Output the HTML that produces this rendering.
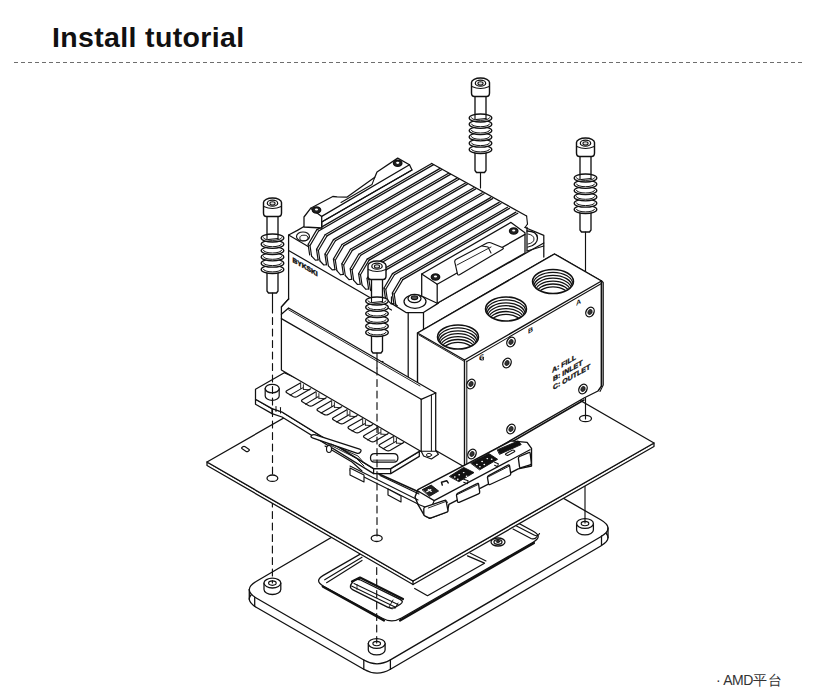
<!DOCTYPE html>
<html><head><meta charset="utf-8"><style>
html,body{margin:0;padding:0;background:#fff;}
body{width:814px;height:700px;position:relative;overflow:hidden;font-family:"Liberation Sans",sans-serif;}
.t{position:absolute;left:52px;top:20.5px;font-size:28.5px;font-weight:bold;color:#111;letter-spacing:0.35px;white-space:nowrap;}
.dash{position:absolute;left:14px;top:61.5px;width:788px;height:1.5px;background:repeating-linear-gradient(90deg,#6e6e6e 0 4px,transparent 4px 7px);}
.amd{position:absolute;left:716px;top:672px;font-size:14px;color:#333;white-space:nowrap;}
svg{position:absolute;left:0;top:0;}
text{opacity:0.99}
</style></head><body>
<div class="t">Install tutorial</div>
<div class="dash"></div>
<svg width="814" height="700" viewBox="0 0 814 700" stroke="#111" stroke-linejoin="round" stroke-linecap="round">
<path d="M256.5,590.6 Q242,599.1 256.6,607.5 L363.8,669.3 Q377.1,677 390.4,669.2 L600.8,546 Q615.3,537.5 600.7,529.1 L494.8,468 Q480.2,459.6 465.7,468.1 Z" fill="#fff" stroke-width="1.3224999999999998" />
<path d="M256.5,581.3 Q242,589.8 256.6,598.2 L363.8,660 Q377.1,667.7 390.4,659.9 L600.8,536.7 Q615.3,528.2 600.7,519.8 L494.8,458.7 Q480.2,450.3 465.7,458.8 Z" fill="#fff" stroke-width="1.3224999999999998" />
<polyline points="249.3,589.5 249.3,599.3" fill="none" stroke-width="1.3224999999999998" />
<polyline points="608,528 608,537.8" fill="none" stroke-width="1.3224999999999998" />
<polyline points="363.8,660 363.8,669.3" fill="none" stroke-width="1.265" />
<polyline points="390.4,660 390.4,669.3" fill="none" stroke-width="1.265" />
<polyline points="254.7,597.3 254.7,606.3" fill="none" stroke-width="1.265" />
<polyline points="601.5,536 601.5,545" fill="none" stroke-width="1.265" />
<path d="M323.3,575.4 Q313.8,580.9 323.5,586.2 L382.3,618.2 Q392,623.5 401.5,618 L533.5,542 Q543,536.5 533.3,531.2 L474.5,499.2 Q464.8,493.9 455.3,499.4 Z" fill="#fff" stroke-width="1.265" />
<polyline points="324.7,579.8 362,557.2" fill="none" stroke-width="1.15" />
<polyline points="326.6,582.7 362,560.4" fill="none" stroke-width="1.15" />
<path d="M513,529 L531,538.5 Q535,540 537,536.5" fill="none" stroke-width="1.15" />
<path d="M516.5,526 L534,535 Q538,537 539.5,533.5" fill="none" stroke-width="1.15" />
<polyline points="322.7,586.5 384,620.5" fill="none" stroke-width="2.1849999999999996" />
<polyline points="400,620.5 534,543" fill="none" stroke-width="2.1849999999999996" />
<path d="M352.9,581.8 Q356,577.8 360.5,580 L400,599.3 Q404.5,601.5 400.3,604.2 L396.2,606.8 Q392,609.5 387.5,607.2 L353,589.8 Q348.5,587.5 351.6,583.5 Z" fill="#fff" stroke-width="1.3224999999999998" />
<polyline points="352,581.5 360,577.6 403,599" fill="none" stroke-width="2.1849999999999996" />
<polyline points="354,583.5 398,604.5" fill="none" stroke-width="1.035" />
<polyline points="351.5,586 395,607" fill="none" stroke-width="1.035" />
<polyline points="357,584.5 357,589.5" fill="none" stroke-width="0.8049999999999999" />
<polyline points="393,600 389,607 392,609" fill="none" stroke-width="0.9199999999999999" />
<polyline points="398,603 395,608.5" fill="none" stroke-width="0.9199999999999999" />
<polyline points="467.5,555.8 484.5,563.2 427.5,595.7 414.7,588.5" fill="none" stroke-width="1.265" />
<polyline points="470,553 486,561" fill="none" stroke-width="1.035" />
<ellipse cx="498" cy="542" rx="7" ry="4" fill="none" stroke-width="1.265" />
<ellipse cx="498" cy="542" rx="4" ry="2.3" fill="none" stroke-width="1.265" />
<ellipse cx="498" cy="541.5" rx="1.8" ry="1" fill="#333" stroke-width="0.9199999999999999" />
<path d="M264,583.1 L264,589.6 A8.4,4.9 0 0 0 280.8,589.6 L280.8,583.1" fill="#fff" stroke-width="1.265" />
<ellipse cx="272.4" cy="583.1" rx="8.4" ry="4.9" fill="#fff" stroke-width="1.265" />
<ellipse cx="272.4" cy="583.1" rx="3.8" ry="2.2" fill="none" stroke-width="1.15" />
<path d="M368.3,643.5 L368.3,650 A8.4,4.9 0 0 0 385.1,650 L385.1,643.5" fill="#fff" stroke-width="1.265" />
<ellipse cx="376.7" cy="643.5" rx="8.4" ry="4.9" fill="#fff" stroke-width="1.265" />
<ellipse cx="376.7" cy="643.5" rx="3.8" ry="2.2" fill="none" stroke-width="1.15" />
<path d="M576.6,523.5 L576.6,530 A8.4,4.9 0 0 0 593.4,530 L593.4,523.5" fill="#fff" stroke-width="1.265" />
<ellipse cx="585" cy="523.5" rx="8.4" ry="4.9" fill="#fff" stroke-width="1.265" />
<ellipse cx="585" cy="523.5" rx="3.8" ry="2.2" fill="none" stroke-width="1.15" />
<polyline points="272.4,500 272.4,583" fill="none" stroke-width="1.15" stroke-dasharray="7,4.5"/>
<polyline points="376.7,556 376.7,643" fill="none" stroke-width="1.15" stroke-dasharray="7,4.5"/>
<polyline points="585,486 585,523" fill="none" stroke-width="1.15" />
<polygon points="207,462 413,581 654,443 654,446.5 413,584.5 207,465.5" fill="#fff" stroke-width="1.265" />
<polygon points="207,462 413,581 654,443 448,324" fill="#fff" stroke-width="1.265" />
<polyline points="413,581 413,584.5" fill="none" stroke-width="1.265" />
<ellipse cx="272.4" cy="478.2" rx="5.4" ry="3.2" fill="none" stroke-width="1.265" />
<ellipse cx="376.7" cy="538.3" rx="5.5" ry="3.2" fill="none" stroke-width="1.265" />
<ellipse cx="585.5" cy="418.5" rx="6" ry="3.2" fill="none" stroke-width="1.265" />
<path d="M242.2,448.8 Q241,448 242.2,447.2 L242.8,446.8 Q244,446 245.2,446.8 L248.8,449.2 Q250,450 248.8,450.8 L248.2,451.2 Q247,452 245.8,451.2 Z" fill="#fff" stroke-width="1.15" />
<polygon points="255.5,399.3 272,408.6 282,412 373.6,468.6 390.7,468.6 419.3,451.4 419.3,456.4 390.7,473.6 373.6,473.6 282,417 272,413.6 255.5,404.3" fill="#fff" stroke-width="1.265" />
<polygon points="255.5,389.3 284.3,372.7 435.7,441.9 419.3,451.4 390.7,468.6 373.6,468.6 282,412 272,408.6 255.5,399.3" fill="#fff" stroke-width="1.265" />
<polyline points="272,408.6 272,413.6" fill="none" stroke-width="1.265" />
<polyline points="373.6,468.6 373.6,473.6" fill="none" stroke-width="1.265" />
<polyline points="390.7,468.6 390.7,473.6" fill="none" stroke-width="1.265" />
<polyline points="276,406.5 276,411.5" fill="none" stroke-width="1.035" />
<polyline points="280.5,407.5 280.5,413" fill="none" stroke-width="1.035" />
<path d="M265.2,388.6 L265.2,396 A7,4.3 0 0 0 279.2,396 L279.2,388.6" fill="#fff" stroke-width="1.2075" />
<ellipse cx="272.2" cy="388.6" rx="7" ry="4.3" fill="#fff" stroke-width="1.3224999999999998" />
<path d="M370.5,457.8 Q370.5,453.6 374.7,453.6 L393.7,453.6 Q397.9,453.6 397.9,457.8 L397.9,457.9 Q397.9,462.1 393.7,462.1 L374.7,462.1 Q370.5,462.1 370.5,457.9 Z" fill="#fff" stroke-width="1.265" />
<polyline points="373,460.3 395,460.3" fill="none" stroke-width="1.38" stroke="#777"/>
<path d="M300.4,382.9 L287.1,390.5 Q284.9,391.8 287.1,393.1 L293,396.5 Q295.2,397.7 297.4,396.5 L310.7,388.8" fill="#fff" stroke-width="1.2075" />
<polyline points="290.1,395.1 302.6,387.9" fill="none" stroke-width="1.0924999999999998" />
<polyline points="300.7,383.4 300.7,388.4" fill="none" stroke-width="0.9199999999999999" />
<polyline points="303.4,384.7 303.4,389.4" fill="none" stroke-width="0.9199999999999999" />
<polyline points="303.4,389.4 309.7,389.8" fill="none" stroke-width="0.9199999999999999" />
<path d="M315.9,391.8 L302.6,399.5 Q300.4,400.8 302.6,402 L308.5,405.4 Q310.7,406.7 312.9,405.4 L326.2,397.7" fill="#fff" stroke-width="1.2075" />
<polyline points="305.6,404.1 318.1,396.8" fill="none" stroke-width="1.0924999999999998" />
<polyline points="316.2,392.3 316.2,397.3" fill="none" stroke-width="0.9199999999999999" />
<polyline points="318.9,393.6 318.9,398.3" fill="none" stroke-width="0.9199999999999999" />
<polyline points="318.9,398.3 325.2,398.7" fill="none" stroke-width="0.9199999999999999" />
<path d="M331.4,400.8 L318.1,408.4 Q315.9,409.7 318.1,411 L324,414.4 Q326.2,415.6 328.4,414.4 L341.7,406.7" fill="#fff" stroke-width="1.2075" />
<polyline points="321.1,413 333.6,405.8" fill="none" stroke-width="1.0924999999999998" />
<polyline points="331.7,401.3 331.7,406.3" fill="none" stroke-width="0.9199999999999999" />
<polyline points="334.4,402.6 334.4,407.3" fill="none" stroke-width="0.9199999999999999" />
<polyline points="334.4,407.3 340.7,407.7" fill="none" stroke-width="0.9199999999999999" />
<path d="M346.9,409.7 L333.6,417.4 Q331.4,418.7 333.6,419.9 L339.5,423.3 Q341.7,424.6 343.9,423.3 L357.2,415.6" fill="#fff" stroke-width="1.2075" />
<polyline points="336.6,422 349.1,414.7" fill="none" stroke-width="1.0924999999999998" />
<polyline points="347.2,410.2 347.2,415.2" fill="none" stroke-width="0.9199999999999999" />
<polyline points="349.9,411.5 349.9,416.2" fill="none" stroke-width="0.9199999999999999" />
<polyline points="349.9,416.2 356.2,416.6" fill="none" stroke-width="0.9199999999999999" />
<path d="M362.4,418.7 L349.1,426.3 Q346.9,427.6 349.1,428.9 L355,432.3 Q357.2,433.5 359.4,432.3 L372.7,424.6" fill="#fff" stroke-width="1.2075" />
<polyline points="352.1,430.9 364.6,423.7" fill="none" stroke-width="1.0924999999999998" />
<polyline points="362.7,419.2 362.7,424.2" fill="none" stroke-width="0.9199999999999999" />
<polyline points="365.4,420.5 365.4,425.2" fill="none" stroke-width="0.9199999999999999" />
<polyline points="365.4,425.2 371.7,425.6" fill="none" stroke-width="0.9199999999999999" />
<path d="M377.9,427.6 L364.6,435.3 Q362.4,436.6 364.6,437.8 L370.5,441.2 Q372.7,442.5 374.9,441.2 L388.2,433.5" fill="#fff" stroke-width="1.2075" />
<polyline points="367.6,439.9 380.1,432.6" fill="none" stroke-width="1.0924999999999998" />
<polyline points="378.2,428.1 378.2,433.1" fill="none" stroke-width="0.9199999999999999" />
<polyline points="380.9,429.4 380.9,434.1" fill="none" stroke-width="0.9199999999999999" />
<polyline points="380.9,434.1 387.2,434.5" fill="none" stroke-width="0.9199999999999999" />
<path d="M393.4,436.6 L380.1,444.2 Q377.9,445.5 380.1,446.8 L386,450.2 Q388.2,451.4 390.4,450.2 L403.7,442.5" fill="#fff" stroke-width="1.2075" />
<polyline points="383.1,448.8 395.6,441.6" fill="none" stroke-width="1.0924999999999998" />
<polyline points="393.7,437.1 393.7,442.1" fill="none" stroke-width="0.9199999999999999" />
<polyline points="396.4,438.4 396.4,443.1" fill="none" stroke-width="0.9199999999999999" />
<polyline points="396.4,443.1 402.7,443.5" fill="none" stroke-width="0.9199999999999999" />
<polygon points="288.6,299 288.6,235 304,226.5 304,217 310.6,208.3 397.7,158.1 409.5,164.7 412,166 432,161 526.6,216 527.5,224 543.8,235.3 543.8,290 435.7,384 408.2,377.6" fill="#fff" stroke-width="0.0" stroke="none"/>
<polyline points="288.6,299 288.6,235 297.4,230.4 304,226.5" fill="none" stroke-width="1.265" />
<polyline points="288.6,235 309,247" fill="none" stroke-width="1.15" />
<polyline points="288.6,299 281.4,307" fill="none" stroke-width="1.265" />
<ellipse cx="303" cy="236.5" rx="6.5" ry="4.5" fill="#fff" stroke-width="1.15" />
<ellipse cx="304" cy="238" rx="4.2" ry="2.8" fill="none" stroke-width="0.9199999999999999" />
<polyline points="391.5,303.4 406.4,312.7 423,312.7 438,303.4" fill="none" stroke-width="1.265" />
<polyline points="408.2,312.7 408.2,377.6" fill="none" stroke-width="1.265" />
<polyline points="423.5,312.7 423.5,372" fill="none" stroke-width="1.265" />
<polyline points="391.5,297 391.5,303.4" fill="none" stroke-width="1.265" />
<ellipse cx="415" cy="301.5" rx="11" ry="6.8" fill="#fff" stroke-width="1.265" />
<ellipse cx="414.5" cy="298.5" rx="6.5" ry="4.2" fill="#fff" stroke-width="1.265" />
<ellipse cx="414.5" cy="297.8" rx="3.2" ry="1.9" fill="#555" stroke-width="1.15" />
<polyline points="438,303.4 438,298" fill="none" stroke-width="1.15" />
<polyline points="437.2,303.2 543.8,243" fill="none" stroke-width="1.265" />
<polyline points="525,227.5 543.8,235.3 543.8,257" fill="none" stroke-width="1.265" />
<polyline points="527.5,224 525,227.5" fill="none" stroke-width="1.15" />
<path d="M527,231 Q537,231 537.5,238 Q537.5,245 528,247" fill="none" stroke-width="1.265" />
<path d="M528,234 Q534,235 534,239 Q534,243 528,244" fill="none" stroke-width="0.9199999999999999" />
<polyline points="527,227.5 527,251" fill="none" stroke-width="1.265" />
<polyline points="527,251 543.8,246" fill="none" stroke-width="1.035" />
<polyline points="288.6,250.5 391.5,310" fill="none" stroke-width="1.2075" />
<polygon points="316.7,229.9 431.7,163.5 433.6,164.6 318.6,231 310,245.6 311.6,256.1 309.7,255 308.1,244.5" fill="#fff" stroke-width="0.0" stroke="none"/>
<polygon points="325.1,234.8 440.1,168.4 442,169.5 327,235.9 318.4,250.5 320,261 318.1,259.9 316.5,249.4" fill="#fff" stroke-width="0.0" stroke="none"/>
<polygon points="333.5,239.6 448.5,173.3 450.4,174.4 335.4,240.7 326.8,255.3 328.4,265.8 326.5,264.7 324.9,254.2" fill="#fff" stroke-width="0.0" stroke="none"/>
<polygon points="342,244.5 457,178.1 458.9,179.2 343.9,245.6 335.3,260.2 336.9,270.7 335,269.6 333.4,259.1" fill="#fff" stroke-width="0.0" stroke="none"/>
<polygon points="350.4,249.3 465.4,183 467.3,184.1 352.3,250.4 343.7,265 345.3,275.5 343.4,274.4 341.8,263.9" fill="#fff" stroke-width="0.0" stroke="none"/>
<polygon points="358.8,254.2 473.8,187.8 475.7,188.9 360.7,255.3 352.1,269.9 353.7,280.4 351.8,279.3 350.2,268.8" fill="#fff" stroke-width="0.0" stroke="none"/>
<polygon points="367.2,259.1 482.2,192.7 484.1,193.8 369.1,260.1 360.5,274.7 362.1,285.2 360.2,284.2 358.6,273.7" fill="#fff" stroke-width="0.0" stroke="none"/>
<polygon points="375.6,263.9 490.6,197.6 492.5,198.6 377.5,265 368.9,279.6 370.5,290.1 368.6,289 367,278.5" fill="#fff" stroke-width="0.0" stroke="none"/>
<polygon points="384.1,268.8 499.1,202.4 501,203.5 386,269.9 377.4,284.5 379,295 377.1,293.9 375.5,283.4" fill="#fff" stroke-width="0.0" stroke="none"/>
<polygon points="392.5,273.6 507.5,207.3 509.4,208.4 394.4,274.7 385.8,289.3 387.4,299.8 385.5,298.7 383.9,288.2" fill="#fff" stroke-width="0.0" stroke="none"/>
<polygon points="400.9,278.5 515.9,212.1 517.8,213.2 402.8,279.6 394.2,294.2 395.8,304.7 393.9,303.6 392.3,293.1" fill="#fff" stroke-width="0.0" stroke="none"/>
<polyline points="316.7,229.9 431.7,163.5" fill="none" stroke-width="1.288" />
<polyline points="318.6,231 433.6,164.6" fill="none" stroke-width="1.288" />
<polyline points="316.7,229.9 308.1,244.5 309.7,255" fill="none" stroke-width="1.2075" />
<polyline points="318.6,231 310,245.6 311.6,256.1" fill="none" stroke-width="1.15" />
<polyline points="308.1,244.5 310,245.6" fill="none" stroke-width="0.9199999999999999" />
<polyline points="311.6,256.1 315.4,260.2 318.1,259.9" fill="none" stroke-width="1.15" />
<polyline points="325.1,234.8 440.1,168.4" fill="none" stroke-width="1.288" />
<polyline points="327,235.9 442,169.5" fill="none" stroke-width="1.288" />
<polyline points="325.1,234.8 316.5,249.4 318.1,259.9" fill="none" stroke-width="1.2075" />
<polyline points="327,235.9 318.4,250.5 320,261" fill="none" stroke-width="1.15" />
<polyline points="316.5,249.4 318.4,250.5" fill="none" stroke-width="0.9199999999999999" />
<polyline points="320,261 323.8,265 326.5,264.7" fill="none" stroke-width="1.15" />
<polyline points="333.5,239.6 448.5,173.3" fill="none" stroke-width="1.288" />
<polyline points="335.4,240.7 450.4,174.4" fill="none" stroke-width="1.288" />
<polyline points="333.5,239.6 324.9,254.2 326.5,264.7" fill="none" stroke-width="1.2075" />
<polyline points="335.4,240.7 326.8,255.3 328.4,265.8" fill="none" stroke-width="1.15" />
<polyline points="324.9,254.2 326.8,255.3" fill="none" stroke-width="0.9199999999999999" />
<polyline points="328.4,265.8 332.2,269.9 335,269.6" fill="none" stroke-width="1.15" />
<polyline points="342,244.5 457,178.1" fill="none" stroke-width="1.288" />
<polyline points="343.9,245.6 458.9,179.2" fill="none" stroke-width="1.288" />
<polyline points="342,244.5 333.4,259.1 335,269.6" fill="none" stroke-width="1.2075" />
<polyline points="343.9,245.6 335.3,260.2 336.9,270.7" fill="none" stroke-width="1.15" />
<polyline points="333.4,259.1 335.3,260.2" fill="none" stroke-width="0.9199999999999999" />
<polyline points="336.9,270.7 340.6,274.8 343.4,274.4" fill="none" stroke-width="1.15" />
<polyline points="350.4,249.3 465.4,183" fill="none" stroke-width="1.288" />
<polyline points="352.3,250.4 467.3,184.1" fill="none" stroke-width="1.288" />
<polyline points="350.4,249.3 341.8,263.9 343.4,274.4" fill="none" stroke-width="1.2075" />
<polyline points="352.3,250.4 343.7,265 345.3,275.5" fill="none" stroke-width="1.15" />
<polyline points="341.8,263.9 343.7,265" fill="none" stroke-width="0.9199999999999999" />
<polyline points="345.3,275.5 349,279.6 351.8,279.3" fill="none" stroke-width="1.15" />
<polyline points="358.8,254.2 473.8,187.8" fill="none" stroke-width="1.288" />
<polyline points="360.7,255.3 475.7,188.9" fill="none" stroke-width="1.288" />
<polyline points="358.8,254.2 350.2,268.8 351.8,279.3" fill="none" stroke-width="1.2075" />
<polyline points="360.7,255.3 352.1,269.9 353.7,280.4" fill="none" stroke-width="1.15" />
<polyline points="350.2,268.8 352.1,269.9" fill="none" stroke-width="0.9199999999999999" />
<polyline points="353.7,280.4 357.5,284.5 360.2,284.2" fill="none" stroke-width="1.15" />
<polyline points="367.2,259.1 482.2,192.7" fill="none" stroke-width="1.288" />
<polyline points="369.1,260.1 484.1,193.8" fill="none" stroke-width="1.288" />
<polyline points="367.2,259.1 358.6,273.7 360.2,284.2" fill="none" stroke-width="1.2075" />
<polyline points="369.1,260.1 360.5,274.7 362.1,285.2" fill="none" stroke-width="1.15" />
<polyline points="358.6,273.7 360.5,274.7" fill="none" stroke-width="0.9199999999999999" />
<polyline points="362.1,285.2 365.9,289.3 368.6,289" fill="none" stroke-width="1.15" />
<polyline points="375.6,263.9 490.6,197.6" fill="none" stroke-width="1.288" />
<polyline points="377.5,265 492.5,198.6" fill="none" stroke-width="1.288" />
<polyline points="375.6,263.9 367,278.5 368.6,289" fill="none" stroke-width="1.2075" />
<polyline points="377.5,265 368.9,279.6 370.5,290.1" fill="none" stroke-width="1.15" />
<polyline points="367,278.5 368.9,279.6" fill="none" stroke-width="0.9199999999999999" />
<polyline points="370.5,290.1 374.3,294.2 377.1,293.9" fill="none" stroke-width="1.15" />
<polyline points="384.1,268.8 499.1,202.4" fill="none" stroke-width="1.288" />
<polyline points="386,269.9 501,203.5" fill="none" stroke-width="1.288" />
<polyline points="384.1,268.8 375.5,283.4 377.1,293.9" fill="none" stroke-width="1.2075" />
<polyline points="386,269.9 377.4,284.5 379,295" fill="none" stroke-width="1.15" />
<polyline points="375.5,283.4 377.4,284.5" fill="none" stroke-width="0.9199999999999999" />
<polyline points="379,295 382.7,299 385.5,298.7" fill="none" stroke-width="1.15" />
<polyline points="392.5,273.6 507.5,207.3" fill="none" stroke-width="1.288" />
<polyline points="394.4,274.7 509.4,208.4" fill="none" stroke-width="1.288" />
<polyline points="392.5,273.6 383.9,288.2 385.5,298.7" fill="none" stroke-width="1.2075" />
<polyline points="394.4,274.7 385.8,289.3 387.4,299.8" fill="none" stroke-width="1.15" />
<polyline points="383.9,288.2 385.8,289.3" fill="none" stroke-width="0.9199999999999999" />
<polyline points="387.4,299.8 391.1,303.9 393.9,303.6" fill="none" stroke-width="1.15" />
<polyline points="400.9,278.5 515.9,212.1" fill="none" stroke-width="1.288" />
<polyline points="402.8,279.6 517.8,213.2" fill="none" stroke-width="1.288" />
<polyline points="400.9,278.5 392.3,293.1 393.9,303.6" fill="none" stroke-width="1.2075" />
<polyline points="402.8,279.6 394.2,294.2 395.8,304.7" fill="none" stroke-width="1.15" />
<polyline points="392.3,293.1 394.2,294.2" fill="none" stroke-width="0.9199999999999999" />
<polyline points="395.8,304.7 397.3,305.7" fill="none" stroke-width="1.265" />
<polyline points="431.7,163.5 526.6,216" fill="none" stroke-width="1.265" />
<polyline points="526.6,216 527.5,224" fill="none" stroke-width="1.15" />
<polygon points="304,217 310.6,208.3 332.8,196.5 337.2,196.9 346.8,197.2 374.8,177.3 377,172 397.7,158.1 409.5,164.7 412,170 321.7,222 321.7,228 304,227" fill="#fff" stroke-width="1.265" />
<polyline points="310.6,208.3 321.7,216.4 409.5,164.7" fill="none" stroke-width="1.265" />
<polyline points="321.7,216.4 321.7,228" fill="none" stroke-width="1.265" />
<polyline points="304,217 321.7,217" fill="none" stroke-width="0.0" />
<polyline points="337.2,196.9 341,203 346.8,197.2" fill="none" stroke-width="0.0" />
<polyline points="341,202.5 372,184.5 374.8,177.3" fill="none" stroke-width="1.035" />
<polyline points="321.7,222 412,170" fill="none" stroke-width="1.15" />
<ellipse cx="316.5" cy="210" rx="4.2" ry="3" fill="#222" stroke-width="1.38" />
<ellipse cx="316.5" cy="209.5" rx="1.6" ry="1.1" fill="#fff" stroke-width="0.0" />
<ellipse cx="397.7" cy="163.3" rx="4.2" ry="3" fill="#222" stroke-width="1.38" />
<ellipse cx="397.7" cy="162.8" rx="1.6" ry="1.1" fill="#fff" stroke-width="0.0" />
<polygon points="421.7,274 511,222.4 525,232.7 525,253 437.2,303.2 421.7,296" fill="#fff" stroke-width="1.265" />
<polyline points="421.7,274 437.2,284.3 525,234.4" fill="none" stroke-width="1.265" />
<polyline points="437.2,284.3 437.2,303.2" fill="none" stroke-width="1.265" />
<polyline points="425,296 421.7,296" fill="none" stroke-width="0.0" />
<path d="M454.8,262.2 Q454.4,260.2 456.2,259.3 L487,243 Q488.8,242.1 490.7,242.8 L502.4,247.5 Q504.3,248.2 502.6,249.2 L459.5,274.7 Q457.8,275.7 457.4,273.7 Z" fill="#fff" stroke-width="1.15" />
<polyline points="482,246 488,247 491,253" fill="none" stroke-width="1.035" />
<polyline points="457,265 491,247" fill="none" stroke-width="0.9199999999999999" />
<ellipse cx="435.5" cy="277" rx="4.2" ry="3" fill="#222" stroke-width="1.38" />
<ellipse cx="435.5" cy="276.5" rx="1.6" ry="1.1" fill="#fff" stroke-width="0.0" />
<ellipse cx="513.7" cy="231" rx="4.2" ry="3" fill="#222" stroke-width="1.38" />
<ellipse cx="513.7" cy="230.5" rx="1.6" ry="1.1" fill="#fff" stroke-width="0.0" />
<text transform="matrix(1,0.577,0,1,292.5,262)" font-family="Liberation Sans" font-weight="bold" font-size="6.8" fill="#111" stroke="#111" stroke-width="0.45" letter-spacing="-0.1">BYKSKI</text>
<polygon points="417.5,333 554.5,254 601.5,281 601.5,386 598,391 584,398 464.5,467 417.5,440" fill="#fff" stroke-width="1.38" />
<polygon points="417.5,333 464.5,360 601.5,281 554.5,254" fill="#fff" stroke-width="1.38" />
<polyline points="464.5,360 464.5,466" fill="none" stroke-width="1.38" />
<polyline points="466.8,361 466.8,466" fill="none" stroke-width="1.035" />
<polyline points="419,335 464.5,361.5" fill="none" stroke-width="0.9199999999999999" />
<polyline points="466.8,361.5 601.5,283.5" fill="none" stroke-width="1.035" />
<polyline points="584,400 466,468.5" fill="none" stroke-width="1.4949999999999999" />
<polyline points="601.5,281 601.5,386" fill="none" stroke-width="1.4949999999999999" />
<clipPath id="th458"><ellipse cx="458" cy="337" rx="20" ry="11.5"/></clipPath>
<ellipse cx="458" cy="337" rx="20.5" ry="12" fill="#fff" stroke-width="1.4949999999999999" />
<g clip-path="url(#th458)">
<ellipse cx="458" cy="339.6" rx="19.8" ry="11.7" fill="none" stroke-width="1.265" />
<ellipse cx="458" cy="342.2" rx="19.1" ry="11.4" fill="none" stroke-width="1.265" />
<ellipse cx="458" cy="344.8" rx="18.4" ry="11.1" fill="none" stroke-width="1.265" />
<ellipse cx="458" cy="347.4" rx="17.7" ry="10.8" fill="none" stroke-width="1.265" />
<ellipse cx="458" cy="350" rx="17" ry="10.5" fill="none" stroke-width="1.265" />
<ellipse cx="458" cy="352.6" rx="16.3" ry="10.2" fill="none" stroke-width="1.265" />
</g>
<clipPath id="th506"><ellipse cx="506" cy="309" rx="20" ry="11.5"/></clipPath>
<ellipse cx="506" cy="309" rx="20.5" ry="12" fill="#fff" stroke-width="1.4949999999999999" />
<g clip-path="url(#th506)">
<ellipse cx="506" cy="311.6" rx="19.8" ry="11.7" fill="none" stroke-width="1.265" />
<ellipse cx="506" cy="314.2" rx="19.1" ry="11.4" fill="none" stroke-width="1.265" />
<ellipse cx="506" cy="316.8" rx="18.4" ry="11.1" fill="none" stroke-width="1.265" />
<ellipse cx="506" cy="319.4" rx="17.7" ry="10.8" fill="none" stroke-width="1.265" />
<ellipse cx="506" cy="322" rx="17" ry="10.5" fill="none" stroke-width="1.265" />
<ellipse cx="506" cy="324.6" rx="16.3" ry="10.2" fill="none" stroke-width="1.265" />
</g>
<clipPath id="th553"><ellipse cx="553" cy="281.5" rx="20" ry="11.5"/></clipPath>
<ellipse cx="553" cy="281.5" rx="20.5" ry="12" fill="#fff" stroke-width="1.4949999999999999" />
<g clip-path="url(#th553)">
<ellipse cx="553" cy="284.1" rx="19.8" ry="11.7" fill="none" stroke-width="1.265" />
<ellipse cx="553" cy="286.7" rx="19.1" ry="11.4" fill="none" stroke-width="1.265" />
<ellipse cx="553" cy="289.3" rx="18.4" ry="11.1" fill="none" stroke-width="1.265" />
<ellipse cx="553" cy="291.9" rx="17.7" ry="10.8" fill="none" stroke-width="1.265" />
<ellipse cx="553" cy="294.5" rx="17" ry="10.5" fill="none" stroke-width="1.265" />
<ellipse cx="553" cy="297.1" rx="16.3" ry="10.2" fill="none" stroke-width="1.265" />
</g>
<ellipse cx="511" cy="342" rx="3.9" ry="5.1" transform="rotate(28 511 342)" fill="#fff" stroke-width="1.35"/>
<ellipse cx="511" cy="342" rx="2.0" ry="2.7" transform="rotate(28 511 342)" fill="#333" stroke-width="0.6"/>
<ellipse cx="507" cy="363" rx="3.9" ry="5.1" transform="rotate(28 507 363)" fill="#fff" stroke-width="1.35"/>
<ellipse cx="507" cy="363" rx="2.0" ry="2.7" transform="rotate(28 507 363)" fill="#333" stroke-width="0.6"/>
<ellipse cx="471" cy="384" rx="3.9" ry="5.1" transform="rotate(28 471 384)" fill="#fff" stroke-width="1.35"/>
<ellipse cx="471" cy="384" rx="2.0" ry="2.7" transform="rotate(28 471 384)" fill="#333" stroke-width="0.6"/>
<ellipse cx="590" cy="312" rx="3.9" ry="5.1" transform="rotate(28 590 312)" fill="#fff" stroke-width="1.35"/>
<ellipse cx="590" cy="312" rx="2.0" ry="2.7" transform="rotate(28 590 312)" fill="#333" stroke-width="0.6"/>
<ellipse cx="583" cy="389" rx="3.9" ry="5.1" transform="rotate(28 583 389)" fill="#fff" stroke-width="1.35"/>
<ellipse cx="583" cy="389" rx="2.0" ry="2.7" transform="rotate(28 583 389)" fill="#333" stroke-width="0.6"/>
<ellipse cx="511" cy="429" rx="3.9" ry="5.1" transform="rotate(28 511 429)" fill="#fff" stroke-width="1.35"/>
<ellipse cx="511" cy="429" rx="2.0" ry="2.7" transform="rotate(28 511 429)" fill="#333" stroke-width="0.6"/>
<ellipse cx="472" cy="454" rx="3.9" ry="5.1" transform="rotate(28 472 454)" fill="#fff" stroke-width="1.35"/>
<ellipse cx="472" cy="454" rx="2.0" ry="2.7" transform="rotate(28 472 454)" fill="#333" stroke-width="0.6"/>
<rect x="481" y="357" width="2.5" height="3" fill="none" stroke-width="0.8"/>
<text transform="matrix(1,-0.577,0,1,576,306)" font-family="Liberation Sans" font-weight="bold" font-size="7" fill="#111" stroke="none">A</text>
<text transform="matrix(1,-0.577,0,1,528,334)" font-family="Liberation Sans" font-weight="bold" font-size="7" fill="#111" stroke="none">B</text>
<text transform="matrix(1,-0.577,0,1,479,361)" font-family="Liberation Sans" font-weight="bold" font-size="7" fill="#111" stroke="none">C</text>
<text transform="matrix(1,-0.577,0,1,552,373)" font-family="Liberation Sans" font-weight="bold" font-size="7" fill="#111" stroke="#111" stroke-width="0.35">A: FILL</text>
<text transform="matrix(1,-0.577,0,1,553,381.5)" font-family="Liberation Sans" font-weight="bold" font-size="7" fill="#111" stroke="#111" stroke-width="0.35">B: INLET</text>
<text transform="matrix(1,-0.577,0,1,553,390)" font-family="Liberation Sans" font-weight="bold" font-size="7" fill="#111" stroke="#111" stroke-width="0.35">C: OUTLET</text>
<polyline points="601.5,281 603.3,282.5 603.3,385 600,391.5" fill="none" stroke-width="1.035" />
<polygon points="281.4,307 288.6,299 288.6,308 435.7,393 435.7,451.2 420.7,451.2 281.4,370" fill="#fff" stroke-width="0.0" stroke="none"/>
<polyline points="288.6,299 281.4,307 281.4,370 420.7,451.2" fill="none" stroke-width="1.265" />
<polyline points="281.4,314.3 288.6,308 435.7,393" fill="none" stroke-width="1.265" />
<polyline points="288.6,309.8 420,386" fill="none" stroke-width="0.9199999999999999" />
<polyline points="281.4,318.6 421.2,399.3 435.7,393" fill="none" stroke-width="1.265" />
<polyline points="421.2,399.3 421.2,451.2" fill="none" stroke-width="1.265" />
<polyline points="431.4,395 431.4,451.2" fill="none" stroke-width="1.035" />
<polyline points="435.7,393 435.7,451.2" fill="none" stroke-width="1.265" />
<polygon points="421.2,451.2 436.2,451.2 438.5,454.3 431.4,459 423.6,456" fill="#fff" stroke-width="1.15" />
<ellipse cx="429" cy="455" rx="2.6" ry="1.6" fill="none" stroke-width="0.9199999999999999" />
<polygon points="415,496.9 417.9,489.6 510.9,440.9 527.1,442.4 531.5,448.3 531.5,466 518.2,468.9 448.9,504.3 447.4,511.7 429.7,518.3 423.8,514.6 417.9,504.3" fill="#fff" stroke-width="1.38" />
<polyline points="417.9,491 434.2,500.6 530,449.7" fill="none" stroke-width="1.265" />
<polyline points="434.2,500.6 432.7,504.3" fill="none" stroke-width="1.15" />
<polyline points="417.9,504.3 429.7,508.7 447.4,502.1" fill="none" stroke-width="1.15" />
<path d="M423.8,508.8 Q423.8,507.3 425.3,506.8 L444.6,500.4 Q446,499.9 446.2,501.4 L447.9,510.2 Q448.2,511.7 446.8,512.2 L431.2,517.8 Q429.7,518.3 428.4,517.7 L425.2,516.1 Q423.8,515.4 423.8,513.9 Z" fill="#fff" stroke-width="1.3224999999999998" />
<path d="M456.5,495.5 Q456.3,494 457.6,493.3 L477.1,483.6 Q478.4,482.9 478.6,484.4 L479.7,491.8 Q479.9,493.3 478.5,493.9 L459.1,502.3 Q457.8,502.8 457.5,501.4 Z" fill="#fff" stroke-width="1.3224999999999998" />
<path d="M487.5,477.8 Q487.3,476.3 488.6,475.6 L508.1,465.2 Q509.4,464.5 509.6,466 L510.7,473.3 Q510.9,474.8 509.5,475.5 L490.1,484.5 Q488.7,485.1 488.5,483.7 Z" fill="#fff" stroke-width="1.3224999999999998" />
<path d="M518.4,458.6 Q518.2,457.1 519.6,456.5 L528.7,452.6 Q530,452 530.2,453.5 L531.3,463 Q531.5,464.5 530.1,464.9 L521.2,467.7 Q519.7,468.2 519.5,466.7 Z" fill="#fff" stroke-width="1.3224999999999998" />
<polyline points="428.3,508 446,501.4" fill="none" stroke-width="0.9199999999999999" />
<polyline points="457,494.7 478.4,484.4" fill="none" stroke-width="0.9199999999999999" />
<polyline points="488,477 509.4,466" fill="none" stroke-width="0.9199999999999999" />
<polygon points="449.7,476.3 463.7,467.4 474,472.6 459.2,481.5" fill="#111" stroke-width="0.9199999999999999" />
<polygon points="471,463 488.7,453.4 497.6,459.3 479.9,469.7" fill="#111" stroke-width="0.9199999999999999" />
<polygon points="497.6,449.7 518.2,440.9 521.2,444.6 499.8,454.2" fill="#111" stroke-width="0.9199999999999999" />
<polygon points="422.4,489.6 431.2,485.1 438.6,491 429.7,496.2" fill="#222" stroke-width="0.9199999999999999" />
<ellipse cx="454.8" cy="477" rx="0.9" ry="0.7" fill="#fff" stroke-width="0.0" stroke="none"/>
<ellipse cx="459.2" cy="474.8" rx="0.9" ry="0.7" fill="#fff" stroke-width="0.0" stroke="none"/>
<ellipse cx="463.7" cy="472.6" rx="0.9" ry="0.7" fill="#fff" stroke-width="0.0" stroke="none"/>
<ellipse cx="457.8" cy="479.2" rx="0.9" ry="0.7" fill="#fff" stroke-width="0.0" stroke="none"/>
<ellipse cx="466.6" cy="476.3" rx="0.9" ry="0.7" fill="#fff" stroke-width="0.0" stroke="none"/>
<ellipse cx="476.9" cy="464.5" rx="0.9" ry="0.7" fill="#fff" stroke-width="0.0" stroke="none"/>
<ellipse cx="482.1" cy="461.5" rx="0.9" ry="0.7" fill="#fff" stroke-width="0.0" stroke="none"/>
<ellipse cx="487.3" cy="458.6" rx="0.9" ry="0.7" fill="#fff" stroke-width="0.0" stroke="none"/>
<ellipse cx="479.9" cy="466.7" rx="0.9" ry="0.7" fill="#fff" stroke-width="0.0" stroke="none"/>
<ellipse cx="484.3" cy="464.5" rx="0.9" ry="0.7" fill="#fff" stroke-width="0.0" stroke="none"/>
<ellipse cx="491.7" cy="459.3" rx="0.9" ry="0.7" fill="#fff" stroke-width="0.0" stroke="none"/>
<path d="M426.8,491.8 l4,-2.2" stroke="#fff" stroke-width="1.2"/>
<path d="M428.3,489.6 l3,1.8" stroke="#fff" stroke-width="1.2"/>
<polyline points="442.3,485.1 441.5,482.2 446.7,480.7 448.2,482.9" fill="none" stroke-width="1.4949999999999999" />
<path d="M505.8,454.7 Q505,454.2 505.8,453.7 L512.2,450.2 Q513.1,449.7 513.9,450.3 L514.5,450.7 Q515.3,451.2 514.4,451.7 L508.1,455.2 Q507.2,455.6 506.4,455.1 Z" fill="#fff" stroke-width="1.035" />
<polyline points="463.7,479.2 468.1,480.7 467.4,483.7 463.7,482.2" fill="none" stroke-width="1.035" />
<polyline points="494.6,462.3 498.3,463.8 497.6,466.7 494.6,465.2" fill="none" stroke-width="1.035" />
<path d="M312.4,437.8 Q310,437 311.5,435.5 L311.5,435.5 Q313,434 315.4,434.8 L359.6,449.2 Q362,450 360.5,452 L360.5,452 Q359,454 356.6,453.2 Z" fill="#fff" stroke-width="1.265" />
<polyline points="325,446 352,462 362,471" fill="none" stroke-width="1.15" />
<polyline points="328,444 356,458 364,466" fill="none" stroke-width="0.9199999999999999" />
<polyline points="331,444 358,456 364,463" fill="none" stroke-width="0.9199999999999999" />
<ellipse cx="329" cy="449" rx="2.5" ry="3.5" fill="#fff" stroke-width="1.15" />
<polyline points="350,466 418,500" fill="none" stroke-width="1.15" />
<polyline points="350,470 418,504" fill="none" stroke-width="1.15" />
<polygon points="350,468 364,475 364,482 350,475" fill="#fff" stroke-width="1.15" />
<polygon points="388,489 401,496 401,502 388,495" fill="#fff" stroke-width="1.15" />
<polyline points="378,473.5 419,492" fill="none" stroke-width="1.4949999999999999" />
<polyline points="380,475.5 419,494" fill="none" stroke-width="1.035" />
<polygon points="475,94 486,94 486,170.5 484.5,172.5 476.5,172.5 475,170.5" fill="#fff" stroke-width="1.3224999999999998" />
<path d="M471.5,82.5 L471.5,93 Q471.5,96.5 474.5,96.5 L486.5,96.5 Q489.5,96.5 489.5,93 L489.5,82.5 A9,4.5 0 0 0 471.5,82.5 Z" fill="#fff" stroke-width="1.4375" />
<polyline points="472,87.5 489,87.5" fill="none" stroke-width="0.0" />
<path d="M471.8,86.5 Q480.5,90.5 489.2,86.5" fill="none" stroke-width="1.035" />
<ellipse cx="480.5" cy="83.2" rx="5.2" ry="3" fill="none" stroke-width="1.265" />
<ellipse cx="480.5" cy="83.4" rx="2.6" ry="1.6" fill="#ddd" stroke-width="1.035" />
<ellipse cx="480.5" cy="149.5" rx="11.3" ry="4" fill="#fff" stroke-width="1.3224999999999998" />
<path d="M471.4,149.3 A9.1,2.6 0 0 0 489.6,149.3" fill="none" stroke-width="0.9774999999999999" />
<ellipse cx="480.5" cy="143.2" rx="11.3" ry="4" fill="#fff" stroke-width="1.3224999999999998" />
<path d="M471.4,143 A9.1,2.6 0 0 0 489.6,143" fill="none" stroke-width="0.9774999999999999" />
<ellipse cx="480.5" cy="136.9" rx="11.3" ry="4" fill="#fff" stroke-width="1.3224999999999998" />
<path d="M471.4,136.7 A9.1,2.6 0 0 0 489.6,136.7" fill="none" stroke-width="0.9774999999999999" />
<ellipse cx="480.5" cy="130.6" rx="11.3" ry="4" fill="#fff" stroke-width="1.3224999999999998" />
<path d="M471.4,130.4 A9.1,2.6 0 0 0 489.6,130.4" fill="none" stroke-width="0.9774999999999999" />
<ellipse cx="480.5" cy="124.3" rx="11.3" ry="4" fill="#fff" stroke-width="1.3224999999999998" />
<path d="M471.4,124.1 A9.1,2.6 0 0 0 489.6,124.1" fill="none" stroke-width="0.9774999999999999" />
<ellipse cx="480.5" cy="118" rx="11.3" ry="4" fill="#fff" stroke-width="1.3224999999999998" />
<path d="M471.4,117.8 A9.1,2.6 0 0 0 489.6,117.8" fill="none" stroke-width="0.9774999999999999" />
<polyline points="475,114.5 475,119" fill="none" stroke-width="1.15" />
<polyline points="486,114.5 486,119" fill="none" stroke-width="1.15" />
<polyline points="476,119.5 486,118.5" fill="none" stroke-width="1.035" />
<polyline points="480.5,172.5 480.5,188" fill="none" stroke-width="1.15" />
<polygon points="580,154 591,154 591,230 589.5,232 581.5,232 580,230" fill="#fff" stroke-width="1.3224999999999998" />
<path d="M576.5,142.5 L576.5,153 Q576.5,156.5 579.5,156.5 L591.5,156.5 Q594.5,156.5 594.5,153 L594.5,142.5 A9,4.5 0 0 0 576.5,142.5 Z" fill="#fff" stroke-width="1.4375" />
<polyline points="577,147.5 594,147.5" fill="none" stroke-width="0.0" />
<path d="M576.8,146.5 Q585.5,150.5 594.2,146.5" fill="none" stroke-width="1.035" />
<ellipse cx="585.5" cy="143.2" rx="5.2" ry="3" fill="none" stroke-width="1.265" />
<ellipse cx="585.5" cy="143.4" rx="2.6" ry="1.6" fill="#ddd" stroke-width="1.035" />
<ellipse cx="585.5" cy="209.5" rx="11.3" ry="4" fill="#fff" stroke-width="1.3224999999999998" />
<path d="M576.4,209.3 A9.1,2.6 0 0 0 594.6,209.3" fill="none" stroke-width="0.9774999999999999" />
<ellipse cx="585.5" cy="203.2" rx="11.3" ry="4" fill="#fff" stroke-width="1.3224999999999998" />
<path d="M576.4,203 A9.1,2.6 0 0 0 594.6,203" fill="none" stroke-width="0.9774999999999999" />
<ellipse cx="585.5" cy="196.9" rx="11.3" ry="4" fill="#fff" stroke-width="1.3224999999999998" />
<path d="M576.4,196.7 A9.1,2.6 0 0 0 594.6,196.7" fill="none" stroke-width="0.9774999999999999" />
<ellipse cx="585.5" cy="190.6" rx="11.3" ry="4" fill="#fff" stroke-width="1.3224999999999998" />
<path d="M576.4,190.4 A9.1,2.6 0 0 0 594.6,190.4" fill="none" stroke-width="0.9774999999999999" />
<ellipse cx="585.5" cy="184.3" rx="11.3" ry="4" fill="#fff" stroke-width="1.3224999999999998" />
<path d="M576.4,184.1 A9.1,2.6 0 0 0 594.6,184.1" fill="none" stroke-width="0.9774999999999999" />
<ellipse cx="585.5" cy="178" rx="11.3" ry="4" fill="#fff" stroke-width="1.3224999999999998" />
<path d="M576.4,177.8 A9.1,2.6 0 0 0 594.6,177.8" fill="none" stroke-width="0.9774999999999999" />
<polyline points="580,174.5 580,179" fill="none" stroke-width="1.15" />
<polyline points="591,174.5 591,179" fill="none" stroke-width="1.15" />
<polyline points="581,179.5 591,178.5" fill="none" stroke-width="1.035" />
<polyline points="585.5,232 585.5,271" fill="none" stroke-width="1.15" />
<polyline points="585.5,398 585.5,419" fill="none" stroke-width="1.15" />
<polygon points="267,214 278,214 278,291 276.5,293 268.5,293 267,291" fill="#fff" stroke-width="1.3224999999999998" />
<path d="M263.5,202.5 L263.5,213 Q263.5,216.5 266.5,216.5 L278.5,216.5 Q281.5,216.5 281.5,213 L281.5,202.5 A9,4.5 0 0 0 263.5,202.5 Z" fill="#fff" stroke-width="1.4375" />
<polyline points="264,207.5 281,207.5" fill="none" stroke-width="0.0" />
<path d="M263.8,206.5 Q272.5,210.5 281.2,206.5" fill="none" stroke-width="1.035" />
<ellipse cx="272.5" cy="203.2" rx="5.2" ry="3" fill="none" stroke-width="1.265" />
<ellipse cx="272.5" cy="203.4" rx="2.6" ry="1.6" fill="#ddd" stroke-width="1.035" />
<ellipse cx="272.5" cy="269.5" rx="11.3" ry="4" fill="#fff" stroke-width="1.3224999999999998" />
<path d="M263.4,269.3 A9.1,2.6 0 0 0 281.6,269.3" fill="none" stroke-width="0.9774999999999999" />
<ellipse cx="272.5" cy="263.2" rx="11.3" ry="4" fill="#fff" stroke-width="1.3224999999999998" />
<path d="M263.4,263 A9.1,2.6 0 0 0 281.6,263" fill="none" stroke-width="0.9774999999999999" />
<ellipse cx="272.5" cy="256.9" rx="11.3" ry="4" fill="#fff" stroke-width="1.3224999999999998" />
<path d="M263.4,256.7 A9.1,2.6 0 0 0 281.6,256.7" fill="none" stroke-width="0.9774999999999999" />
<ellipse cx="272.5" cy="250.6" rx="11.3" ry="4" fill="#fff" stroke-width="1.3224999999999998" />
<path d="M263.4,250.4 A9.1,2.6 0 0 0 281.6,250.4" fill="none" stroke-width="0.9774999999999999" />
<ellipse cx="272.5" cy="244.3" rx="11.3" ry="4" fill="#fff" stroke-width="1.3224999999999998" />
<path d="M263.4,244.1 A9.1,2.6 0 0 0 281.6,244.1" fill="none" stroke-width="0.9774999999999999" />
<ellipse cx="272.5" cy="238" rx="11.3" ry="4" fill="#fff" stroke-width="1.3224999999999998" />
<path d="M263.4,237.8 A9.1,2.6 0 0 0 281.6,237.8" fill="none" stroke-width="0.9774999999999999" />
<polyline points="267,234.5 267,239" fill="none" stroke-width="1.15" />
<polyline points="278,234.5 278,239" fill="none" stroke-width="1.15" />
<polyline points="268,239.5 278,238.5" fill="none" stroke-width="1.035" />
<polyline points="272.5,293 272.5,306" fill="none" stroke-width="1.15" />
<polyline points="272.5,306 272.5,478" fill="none" stroke-width="1.15" stroke-dasharray="7,4.5"/>
<polygon points="371.5,277 382.5,277 382.5,351 381,353 373,353 371.5,351" fill="#fff" stroke-width="1.3224999999999998" />
<path d="M368,265.5 L368,276 Q368,279.5 371,279.5 L383,279.5 Q386,279.5 386,276 L386,265.5 A9,4.5 0 0 0 368,265.5 Z" fill="#fff" stroke-width="1.4375" />
<polyline points="368.5,270.5 385.5,270.5" fill="none" stroke-width="0.0" />
<path d="M368.3,269.5 Q377,273.5 385.7,269.5" fill="none" stroke-width="1.035" />
<ellipse cx="377" cy="266.2" rx="5.2" ry="3" fill="none" stroke-width="1.265" />
<ellipse cx="377" cy="266.4" rx="2.6" ry="1.6" fill="#ddd" stroke-width="1.035" />
<ellipse cx="377" cy="332.5" rx="11.3" ry="4" fill="#fff" stroke-width="1.3224999999999998" />
<path d="M367.9,332.3 A9.1,2.6 0 0 0 386.1,332.3" fill="none" stroke-width="0.9774999999999999" />
<ellipse cx="377" cy="326.2" rx="11.3" ry="4" fill="#fff" stroke-width="1.3224999999999998" />
<path d="M367.9,326 A9.1,2.6 0 0 0 386.1,326" fill="none" stroke-width="0.9774999999999999" />
<ellipse cx="377" cy="319.9" rx="11.3" ry="4" fill="#fff" stroke-width="1.3224999999999998" />
<path d="M367.9,319.7 A9.1,2.6 0 0 0 386.1,319.7" fill="none" stroke-width="0.9774999999999999" />
<ellipse cx="377" cy="313.6" rx="11.3" ry="4" fill="#fff" stroke-width="1.3224999999999998" />
<path d="M367.9,313.4 A9.1,2.6 0 0 0 386.1,313.4" fill="none" stroke-width="0.9774999999999999" />
<ellipse cx="377" cy="307.3" rx="11.3" ry="4" fill="#fff" stroke-width="1.3224999999999998" />
<path d="M367.9,307.1 A9.1,2.6 0 0 0 386.1,307.1" fill="none" stroke-width="0.9774999999999999" />
<ellipse cx="377" cy="301" rx="11.3" ry="4" fill="#fff" stroke-width="1.3224999999999998" />
<path d="M367.9,300.8 A9.1,2.6 0 0 0 386.1,300.8" fill="none" stroke-width="0.9774999999999999" />
<polyline points="371.5,297.5 371.5,302" fill="none" stroke-width="1.15" />
<polyline points="382.5,297.5 382.5,302" fill="none" stroke-width="1.15" />
<polyline points="372.5,302.5 382.5,301.5" fill="none" stroke-width="1.035" />
<polyline points="377,353 377,368" fill="none" stroke-width="1.15" />
<polyline points="377,368 377,538" fill="none" stroke-width="1.15" stroke-dasharray="7,4.5"/>
</svg>
<div class="amd"><span style="letter-spacing:2.5px">&middot;</span><span style="letter-spacing:-0.5px">AMD</span><span style="letter-spacing:1.2px;margin-left:0.5px">平台</span></div>
</body></html>
